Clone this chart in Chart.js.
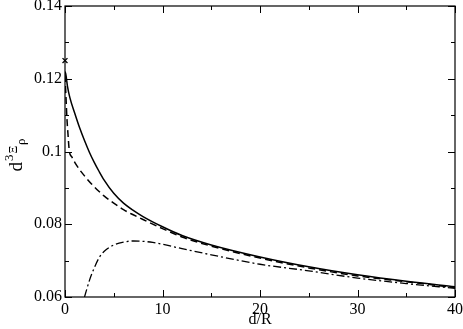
<!DOCTYPE html>
<html>
<head>
<meta charset="utf-8">
<script src="https://cdn.jsdelivr.net/npm/chart.js@4.4.1/dist/chart.umd.min.js"></script>
<style>
  html, body { margin: 0; padding: 0; background: #fff; }
  #wrap { width: 463px; height: 329px; }
</style>
</head>
<body>
<div id="wrap"><canvas id="c" width="463" height="329"></canvas></div>
<script>
// ---- data ----
const solidX = [0, 0.1, 0.25, 0.5, 1, 1.5, 2, 2.5, 3, 3.5, 4, 5, 6, 7, 8, 10, 12, 15, 20, 25, 30, 35, 40];
const solidY = [0.122, 0.121, 0.118, 0.1148, 0.1105, 0.1065, 0.1030, 0.0998, 0.0970, 0.0945, 0.0922, 0.0885, 0.0858, 0.0838, 0.0821, 0.0793, 0.0769, 0.0743, 0.0710, 0.0683, 0.0661, 0.0643, 0.0628];

const dashedX = [0, 0.1, 0.2, 0.3, 0.45, 0.7, 1, 1.5, 2, 2.75, 3.5, 4, 5, 6, 7, 8, 10, 12, 15, 20, 25, 30, 35, 40];
const dashedY = [0.121, 0.115, 0.109, 0.105, 0.100, 0.0985, 0.0970, 0.0950, 0.0933, 0.0910, 0.0890, 0.0878, 0.0858, 0.0840, 0.0826, 0.0813, 0.0788, 0.0765, 0.0740, 0.0707, 0.0680, 0.0658, 0.0642, 0.0626];

const dashDotX = [2.0, 2.5, 3, 3.5, 4, 5, 6, 7, 8, 9, 10, 12, 15, 20, 25, 30, 35, 40];
const dashDotY = [0.0600, 0.0645, 0.0680, 0.0708, 0.0725, 0.0743, 0.0751, 0.0754, 0.0753, 0.0750, 0.0745, 0.0733, 0.0716, 0.0690, 0.0672, 0.0652, 0.0637, 0.0624];

const markerX = [0];
const markerY = [0.125];

const xTicks = [0, 10, 20, 30, 40];
const xMinorTicks = [5, 15, 25, 35];
const yTicks = [0.06, 0.08, 0.10, 0.12, 0.14];
const yMinorTicks = [0.07, 0.09, 0.11, 0.13];

const xTitle = 'd/R';
// ---------------------------------------

const toPts = (xs, ys) => xs.map((v, i) => ({ x: v, y: ys[i] }));
const FONT = '"Liberation Serif", "DejaVu Serif", serif';

const ticksPlugin = {
  id: 'frameTicks',
  afterDraw(chart) {
    const { ctx, chartArea: a, scales: { x, y } } = chart;
    ctx.save();
    ctx.strokeStyle = '#000';
    ctx.lineWidth = 1.2;
    ctx.strokeRect(a.left, a.top, a.right - a.left, a.bottom - a.top);
    ctx.lineWidth = 1;
    ctx.beginPath();
    const xt = (vals, len) => vals.forEach(v => {
      const p = Math.round(x.getPixelForValue(v)) + 0.5;
      ctx.moveTo(p, a.bottom); ctx.lineTo(p, a.bottom - len);
      ctx.moveTo(p, a.top); ctx.lineTo(p, a.top + len);
    });
    const yt = (vals, len) => vals.forEach(v => {
      const p = Math.round(y.getPixelForValue(v)) + 0.5;
      ctx.moveTo(a.left, p); ctx.lineTo(a.left + len, p);
      ctx.moveTo(a.right, p); ctx.lineTo(a.right - len, p);
    });
    xt(xTicks, 7); xt(xMinorTicks, 4);
    yt(yTicks, 7); yt(yMinorTicks, 4);
    ctx.stroke();

    // y-axis title: d^3 Ξ_ρ, rotated
    const cy = (a.top + a.bottom) / 2 + 3;
    ctx.translate(22, cy);
    ctx.rotate(-Math.PI / 2);
    ctx.fillStyle = '#000';
    ctx.textBaseline = 'alphabetic';
    ctx.textAlign = 'left';
    const parts = [
      { t: 'd', size: 19, dy: 0 },
      { t: '3', size: 13, dy: -9 },
      { t: 'Ξ', size: 12, dy: -5 },
      { t: 'ρ', size: 13, dy: 3 }
    ];
    let w = 0;
    parts.forEach(p => { ctx.font = p.size + 'px ' + FONT; p.w = ctx.measureText(p.t).width; w += p.w + 1; });
    let cx = -w / 2;
    parts.forEach(p => { ctx.font = p.size + 'px ' + FONT; ctx.fillText(p.t, cx, p.dy); cx += p.w + 1; });
    ctx.restore();
  }
};

new Chart(document.getElementById('c'), {
  type: 'scatter',
  data: {
    datasets: [
      { data: toPts(solidX, solidY), showLine: true, borderColor: '#000', borderWidth: 1.5, pointRadius: 0, cubicInterpolationMode: 'monotone', fill: false },
      { data: toPts(dashedX, dashedY), showLine: true, borderColor: '#000', borderWidth: 1.5, borderDash: [7, 4], pointRadius: 0, cubicInterpolationMode: 'monotone', fill: false },
      { data: toPts(dashDotX, dashDotY), showLine: true, borderColor: '#000', borderWidth: 1.3, borderDash: [8, 3, 2, 3], pointRadius: 0, cubicInterpolationMode: 'monotone', fill: false },
      { data: toPts(markerX, markerY), showLine: false, pointStyle: 'crossRot', pointRadius: 3.5, borderColor: '#000', borderWidth: 1.3, clip: false }
    ]
  },
  options: {
    responsive: false,
    devicePixelRatio: 1,
    animation: false,
    layout: { padding: { top: 6, right: 8, left: 0, bottom: 0 } },
    plugins: { legend: { display: false }, tooltip: { enabled: false } },
    scales: {
      x: {
        type: 'linear', min: 0, max: 40,
        afterBuildTicks: s => { s.ticks = xTicks.map(v => ({ value: v })); },
        afterFit: s => { s.height = 32; s.paddingLeft = 0; s.paddingRight = 0; },
        grid: { display: false, drawTicks: false },
        border: { display: false },
        ticks: { color: '#000', padding: 3, maxRotation: 0, font: { family: FONT, size: 16 } },
        title: { display: true, text: xTitle, color: '#000', padding: { top: 0, bottom: 0 }, font: { family: FONT, size: 16 } }
      },
      y: {
        type: 'linear', min: 0.06, max: 0.14,
        afterBuildTicks: s => { s.ticks = yTicks.map(v => ({ value: v })); },
        afterFit: s => { s.width = 65; s.paddingTop = 0; s.paddingBottom = 0; },
        grid: { display: false, drawTicks: false },
        border: { display: false },
        ticks: { color: '#000', padding: 3, font: { family: FONT, size: 16 },
          callback: v => String(Number(v.toFixed(2))) }
      }
    }
  },
  plugins: [ticksPlugin]
});
</script>
</body>
</html>
